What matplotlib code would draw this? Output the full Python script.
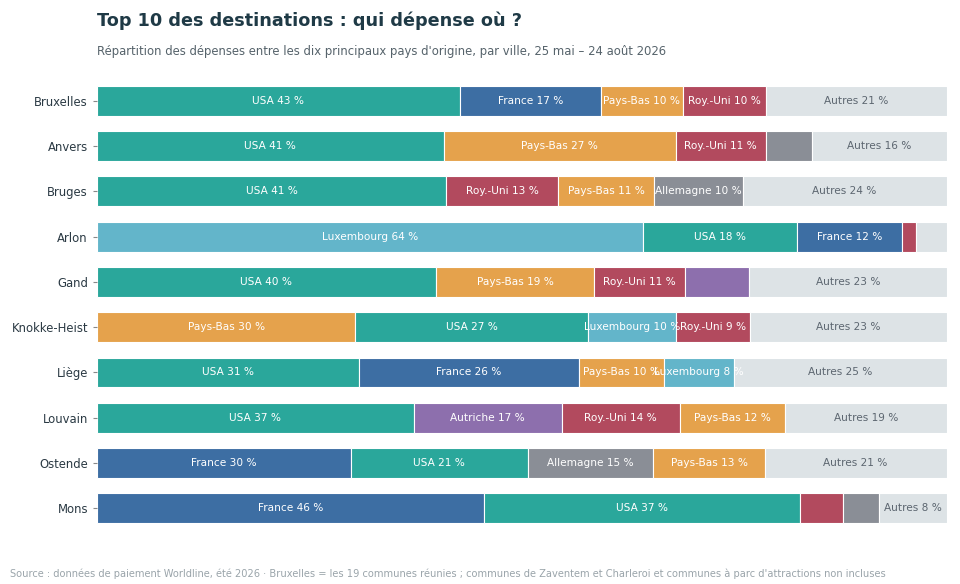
import matplotlib
matplotlib.use("Agg")
import matplotlib.pyplot as plt

# villes (de haut en bas)
cities = ['Bruxelles', 'Anvers', 'Bruges', 'Arlon', 'Gand', 'Knokke-Heist',
          'Liège', 'Louvain', 'Ostende', 'Mons']

# segments par ville : (pays, part en %)
segments = [
    [('USA', 42.7), ('France', 16.6), ('Pays-Bas', 9.7), ('Roy.-Uni', 9.7), ('Autres', 21.3)],
    [('USA', 40.8), ('Pays-Bas', 27.3), ('Roy.-Uni', 10.6), ('Allemagne', 5.5), ('Autres', 15.8)],
    [('USA', 41.1), ('Roy.-Uni', 13.2), ('Pays-Bas', 11.3), ('Allemagne', 10.4), ('Autres', 24.0)],
    [('Luxembourg', 64.3), ('USA', 18.1), ('France', 12.4), ('Roy.-Uni', 1.6), ('Autres', 3.6)],
    [('USA', 39.9), ('Pays-Bas', 18.6), ('Roy.-Uni', 10.7), ('Autriche', 7.6), ('Autres', 23.2)],
    [('Pays-Bas', 30.4), ('USA', 27.4), ('Luxembourg', 10.4), ('Roy.-Uni', 8.7), ('Autres', 23.1)],
    [('USA', 30.9), ('France', 25.8), ('Pays-Bas', 10.1), ('Luxembourg', 8.2), ('Autres', 25.0)],
    [('USA', 37.3), ('Autriche', 17.4), ('Roy.-Uni', 13.9), ('Pays-Bas', 12.4), ('Autres', 19.0)],
    [('France', 29.9), ('USA', 20.8), ('Allemagne', 14.8), ('Pays-Bas', 13.1), ('Autres', 21.4)],
    [('France', 45.6), ('USA', 37.1), ('Roy.-Uni', 5.1), ('Allemagne', 4.3), ('Autres', 7.9)],
]

colors = {
    'USA': '#2aa79b',
    'France': '#3d6ea3',
    'Pays-Bas': '#e5a24c',
    'Roy.-Uni': '#b24a5e',
    'Allemagne': '#8a8e96',
    'Luxembourg': '#63b5ca',
    'Autriche': '#8d6fad',
    'Autres': '#dde3e6',
}

fig = plt.figure(figsize=(9.6, 5.84), dpi=100)
ax = fig.add_axes([0.101, 0.091, 0.885, 0.775])

for i, row in enumerate(segments):
    left = 0
    for name, val in row:
        ax.barh(i, val, left=left, height=0.66, color=colors[name],
                edgecolor='white', linewidth=0.8)
        # pas d'étiquette pour les petits segments
        if val >= 7.8:
            tc = '#5c6670' if name == 'Autres' else 'white'
            ax.text(left + val / 2, i, f'{name} {round(val)} %', ha='center', va='center',
                    fontsize=7.6, color=tc)
        left += val

ax.set_xlim(0, 100)
ax.set_ylim(9.5, -0.5)
ax.set_yticks(range(len(cities)))
ax.set_yticklabels(cities, fontsize=8.4, color='#2b3a44')
ax.tick_params(axis='y', length=3, color='#888888')
ax.set_xticks([])
for s in ax.spines.values():
    s.set_visible(False)

fig.text(0.101, 0.964, 'Top 10 des destinations : qui dépense où ?', fontsize=12.7,
         fontweight='bold', color='#1f3a46', va='center')
fig.text(0.101, 0.911, "Répartition des dépenses entre les dix principaux pays d'origine, par ville, 25 mai – 24 août 2026",
         fontsize=8.4, color='#56636b', va='center')
fig.text(0.010, 0.017, "Source : données de paiement Worldline, été 2026 · Bruxelles = les 19 communes réunies ; "
         "communes de Zaventem et Charleroi et communes à parc d'attractions non incluses",
         fontsize=7.1, color='#9aa4aa', va='center')

fig.savefig('out.png', dpi=100)
